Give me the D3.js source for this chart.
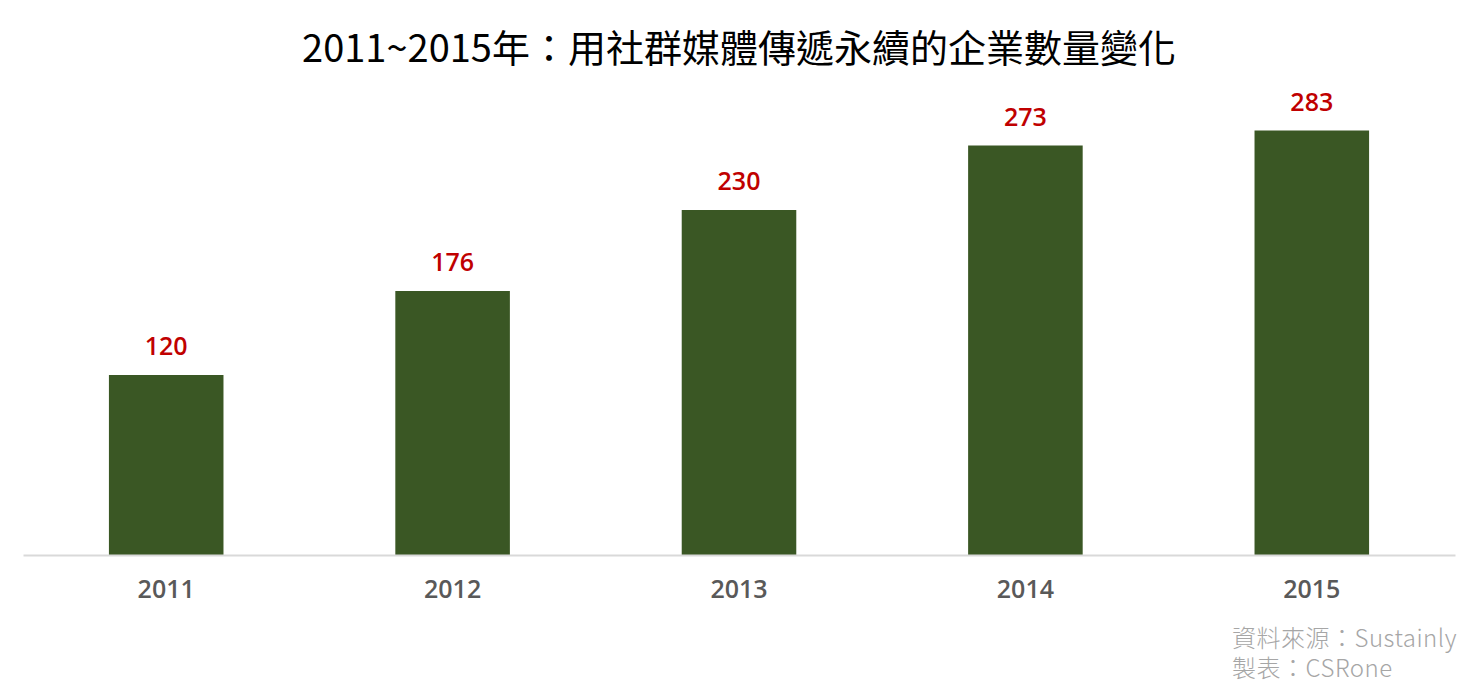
<!DOCTYPE html>
<html><head><meta charset="utf-8">
<script src="https://cdn.jsdelivr.net/npm/d3@7"></script>
<style>html,body{margin:0;padding:0;background:#fff;}svg{display:block;}</style>
</head><body>
<svg id="c" width="1478" height="699"></svg>
<script>
const categories = ["2011","2012","2013","2014","2015"];
const values = [120,176,230,273,283];
const titleText = "2011~2015年：用社群媒體傳遞永續的企業數量變化";
const sourceLines = ["資料來源：Sustainly","製表：CSRone"];

const svg = d3.select("#c");
const left = 23, right = 1455, baseY = 555;

const x = d3.scaleBand().domain(categories).range([left, right]).padding(0);
const y = d3.scaleLinear().domain([0, 300]).range([baseY, baseY - 450]);
const barW = x.bandwidth() * 0.4;

svg.append("text").attr("x", 739).attr("y", 62).attr("text-anchor","middle")
  .attr("font-family","'Noto Sans CJK TC','Noto Sans',sans-serif").attr("font-size",38)
  .attr("font-weight",400).attr("fill","#000").text(titleText);

svg.selectAll("rect.bar").data(values).join("rect").attr("class","bar")
  .attr("x",(d,i)=>x(categories[i]) + (x.bandwidth()-barW)/2)
  .attr("y",d=>y(d)).attr("width",barW).attr("height",d=>baseY-y(d))
  .attr("fill","#3a5724");

svg.selectAll("text.val").data(values).join("text").attr("class","val")
  .attr("x",(d,i)=>x(categories[i]) + x.bandwidth()/2)
  .attr("y",d=>y(d)-20).attr("text-anchor","middle")
  .attr("font-family","'Open Sans','Noto Sans',sans-serif").attr("font-size",25)
  .attr("font-weight",600).attr("fill","#c00000").text(d=>d);

const axis = d3.axisBottom(x).tickSize(0).tickPadding(0);
const g = svg.append("g").attr("transform",`translate(0,${baseY})`).call(axis);
g.select(".domain").attr("stroke","#d9d9d9").attr("stroke-width",2);
g.selectAll(".tick text").attr("dy",null).attr("y",43)
  .attr("font-family","'Open Sans','Noto Sans',sans-serif").attr("font-size",25)
  .attr("font-weight",600).attr("fill","#595959");

svg.selectAll("text.src").data(sourceLines).join("text").attr("class","src")
  .attr("x",1232).attr("y",(d,i)=>647+i*30).attr("text-anchor","start")
  .attr("font-family","'Noto Sans CJK TC','Noto Sans',sans-serif").attr("font-size",24)
  .attr("letter-spacing",0.5)
  .attr("font-weight",300).attr("fill","#a6a6a6").text(d=>d);
</script>
</body></html>
